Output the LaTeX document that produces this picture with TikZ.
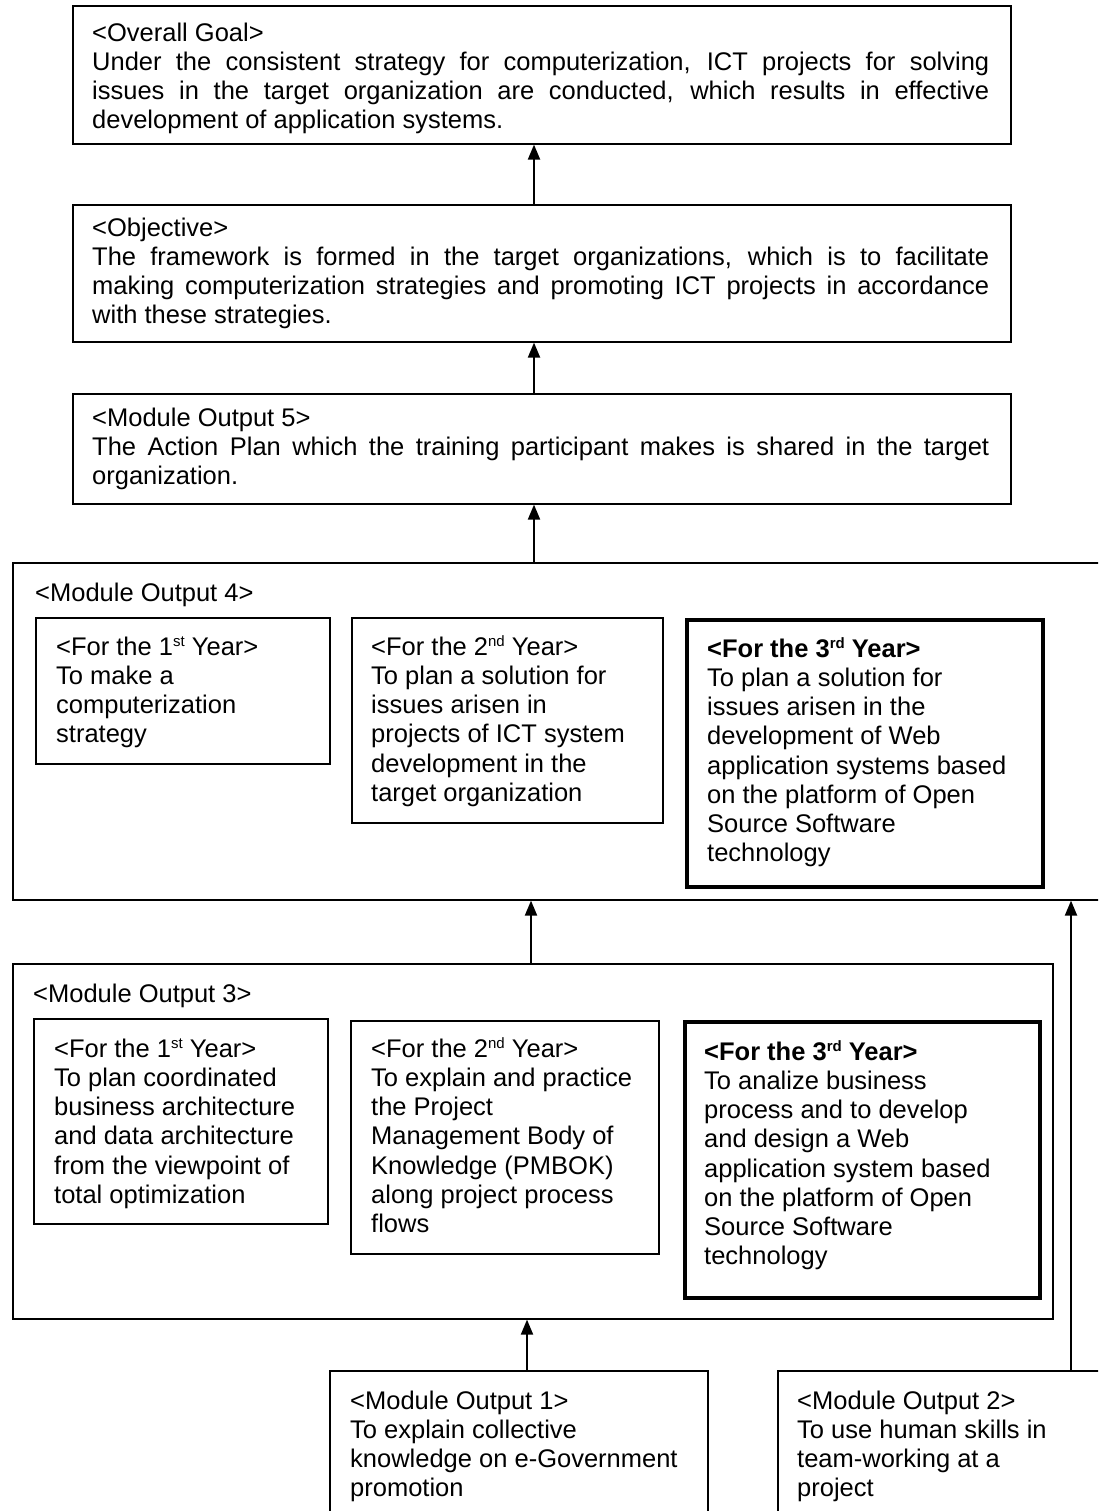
\documentclass[tikz,border=0pt]{standalone}
\usepackage{fontspec}
\setmainfont{Liberation Sans}
\usetikzlibrary{arrows.meta}
\tolerance=9999
\hbadness=10000
\hfuzz=3pt
\newcommand\fl{\rule{0pt}{22pt}}
\newcommand\ordsup[1]{\raisebox{9pt}{\fontsize{15}{15}\selectfont #1}}
\begin{document}
\begin{tikzpicture}[x=1pt,y=1pt,
  box/.style={draw, line width=1.6pt, inner sep=0pt, anchor=north west},
  thickbox/.style={box, line width=3.6pt},
  txt/.style={inner sep=0pt, anchor=north west, align=left, font=\fontsize{25.5}{29.2}\selectfont},
  jtxt/.style={txt, text width=897pt, align=justify},
  arr/.style={line width=2pt, -{Triangle[length=15pt,width=12pt]}}]
\useasboundingbox (0,0) rectangle (1098,-1511);
\fill[white] (0,0) rectangle (1098,-1511);
\clip (0,0) rectangle (1098,-1511);

% boxes
\node[box, minimum width=938pt, minimum height=138pt] (goal) at (72,-5) {};
\node[box, minimum width=938pt, minimum height=137pt] (obj) at (72,-204) {};
\node[box, minimum width=938pt, minimum height=110pt] (mo5) at (72,-393) {};
\node[box, minimum width=1100pt, minimum height=337pt] (mo4) at (12,-562) {};
\node[box, minimum width=294pt, minimum height=146pt] (mo4a) at (35,-617) {};
\node[box, minimum width=311pt, minimum height=205pt] (mo4b) at (351,-617) {};
\node[thickbox, minimum width=356pt, minimum height=267pt] (mo4c) at (685,-618) {};
\node[box, minimum width=1040pt, minimum height=355pt] (mo3) at (12,-963) {};
\node[box, minimum width=294pt, minimum height=205pt] (mo3a) at (33,-1018) {};
\node[box, minimum width=308pt, minimum height=233pt] (mo3b) at (350,-1020) {};
\node[thickbox, minimum width=355pt, minimum height=276pt] (mo3c) at (683,-1020) {};
\node[box, minimum width=378pt, minimum height=180pt] (mo1) at (329,-1370) {};
\node[box, minimum width=340pt, minimum height=180pt] (mo2) at (777,-1370) {};

% texts
\node[jtxt] (goalt) at (92,-19) {\fl<Overall Goal>\\
Under the consistent strategy for computerization, ICT projects for solving\linebreak
issues in the target organization are conducted, which results in effective\linebreak
development of application systems.};
\node[jtxt] (objt) at (92,-214) {\fl<Objective>\\
The framework is formed in the target organizations, which is to facilitate\linebreak
making computerization strategies and promoting ICT projects in accordance\linebreak
with these strategies.};
\node[jtxt] (mo5t) at (92,-404) {\fl<Module Output 5>\\
The Action Plan which the training participant makes is shared in the target\linebreak
organization.};

\node[txt] (mo4l) at (35,-579) {\fl<Module Output 4>};
\node[txt] (mo4at) at (56,-633) {\fl<For the 1\ordsup{st} Year>\\To make a\\computerization\\strategy};
\node[txt] (mo4bt) at (371,-633) {\fl<For the 2\ordsup{nd} Year>\\To plan a solution for\\issues arisen in\\projects of ICT system\\development in the\\target organization};
\node[txt] (mo4ct) at (707,-635) {\fl\textbf{<For the 3\ordsup{rd} Year>}\\To plan a solution for\\issues arisen in the\\development of Web\\application systems based\\on the platform of Open\\Source Software\\technology};

\node[txt] (mo3l) at (33,-980) {\fl<Module Output 3>};
\node[txt] (mo3at) at (54,-1035) {\fl<For the 1\ordsup{st} Year>\\To plan coordinated\\business architecture\\and data architecture\\from the viewpoint of\\total optimization};
\node[txt] (mo3bt) at (371,-1035) {\fl<For the 2\ordsup{nd} Year>\\To explain and practice\\the Project\\Management Body of\\Knowledge (PMBOK)\\along project process\\flows};
\node[txt] (mo3ct) at (704,-1038) {\fl\textbf{<For the 3\ordsup{rd} Year>}\\To analize business\\process and to develop\\and design a Web\\application system based\\on the platform of Open\\Source Software\\technology};

\node[txt] (mo1t) at (350,-1387) {\fl<Module Output 1>\\To explain collective\\knowledge on e-Government\\promotion};
\node[txt] (mo2t) at (797,-1387) {\fl<Module Output 2>\\To use human skills in\\team-working at a\\project};

% arrows
\coordinate (ax1) at (534,0);
\coordinate (ax2) at (531,0);
\coordinate (ax3) at (527,0);
\coordinate (ax4) at (1071,0);
\draw[arr] (obj.north -| ax1) -- (goal.south -| ax1);
\draw[arr] (mo5.north -| ax1) -- (obj.south -| ax1);
\draw[arr] (mo4.north -| ax1) -- (mo5.south -| ax1);
\draw[arr] (mo3.north -| ax2) -- (mo4.south -| ax2);
\draw[arr] (mo1.north -| ax3) -- (mo3.south -| ax3);
\draw[arr] (mo2.north -| ax4) -- (mo4.south -| ax4);
\end{tikzpicture}
\end{document}
